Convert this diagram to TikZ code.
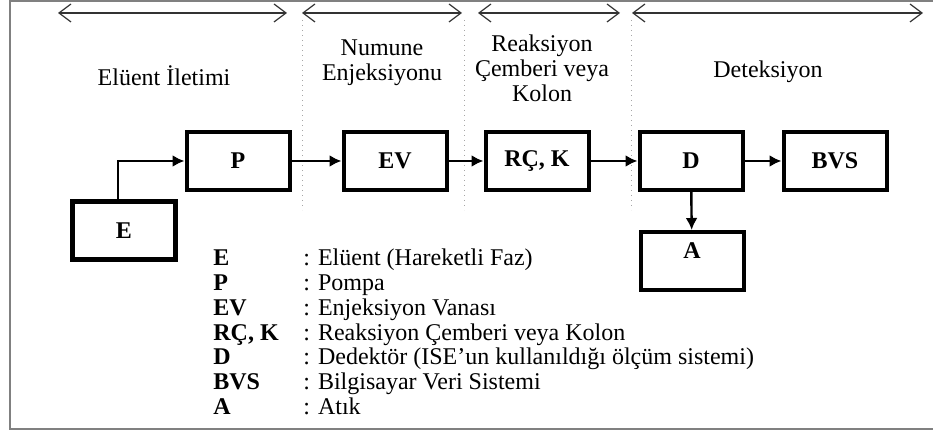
\documentclass[tikz,border=0pt]{standalone}
\usepackage{fontspec}
\setmainfont{Liberation Serif}
\usetikzlibrary{arrows.meta}

\begin{document}
\begin{tikzpicture}[x=0.5pt,y=-0.5pt,
  blok/.style={draw,line width=2pt,minimum width=51.5pt,minimum height=29pt,inner sep=0pt,
    font=\fontsize{12}{14}\selectfont\bfseries},
  akis/.style={-{Latex[length=6pt,width=6pt]},line width=1.2pt},
  bolge/.style={{Straight Barb[length=6pt,width=9pt]}-{Straight Barb[length=6pt,width=9pt]},
    line width=0.6pt,black!80},
  ayrac/.style={dotted,gray!70,line width=0.5pt},
  baslik/.style={align=center,font=\fontsize{12}{12.5}\selectfont}]
  \useasboundingbox (0,0) rectangle (933,432);
  \draw[gray,line width=1pt] (945,1) -- (10,1) -- (10,429) -- (945,429);
  % bolgeler
  \coordinate (b1) at (58,13);
  \coordinate (b2) at (287,13);
  \coordinate (b3) at (302,13);
  \coordinate (b4) at (462,13);
  \coordinate (b5) at (478,13);
  \coordinate (b6) at (620,13);
  \coordinate (b7) at (632,13);
  \coordinate (b8) at (923,13);
  \draw[bolge] (b1) -- (b2);
  \draw[bolge] (b3) -- (b4);
  \draw[bolge] (b5) -- (b6);
  \draw[bolge] (b7) -- (b8);
  \draw[ayrac] (302,20) -- (302,210);
  \draw[ayrac] (464,20) -- (464,210);
  \draw[ayrac] (631,20) -- (631,210);
  \node[baslik] (t1) at (164,76) {Elüent İletimi};
  \node[baslik] (t2) at (382,63) {Numune\\Enjeksiyonu};
  \node[baslik] (t3) at (542,68) {Reaksiyon\\Çemberi veya\\Kolon};
  \node[baslik] (t4) at (768,72) {Deteksiyon};
  % bloklar
  \node[blok] (P) at (238,161) {P};
  \node[blok] (EV) at (395,161) {EV};
  \node[blok] (RCK) at (537,161) {RÇ, K};
  \node[blok] (D) at (691,161) {D};
  \node[blok] (BVS) at (835,161) {BVS};
  \node[blok,line width=2.5pt] (E) at (124,231) {E};
  \node[blok,text depth=10pt] (A) at (692,261) {A};
  \draw[akis] ([xshift=-3pt]E.north) |- (P);
  \draw[akis] (P) -- (EV);
  \draw[akis] (EV) -- (RCK);
  \draw[akis] (RCK) -- (D);
  \draw[akis] (D) -- (BVS);
  \draw[akis] (D) -- (A);
  % aciklama
  \node[anchor=north west,inner sep=0pt,font=\fontsize{12}{12.4}\selectfont] (L) at (213,248)
  {\begin{tabular}{@{}p{45pt}@{}l@{}}
    \textbf{E} & : Elüent (Hareketli Faz)\\
    \textbf{P} & : Pompa\\
    \textbf{EV} & : Enjeksiyon Vanası\\
    \textbf{RÇ, K} & : Reaksiyon Çemberi veya Kolon\\
    \textbf{D} & : Dedektör (ISE’un kullanıldığı ölçüm sistemi)\\
    \textbf{BVS} & : Bilgisayar Veri Sistemi\\
    \textbf{A} & : Atık
  \end{tabular}};
\end{tikzpicture}
\end{document}
